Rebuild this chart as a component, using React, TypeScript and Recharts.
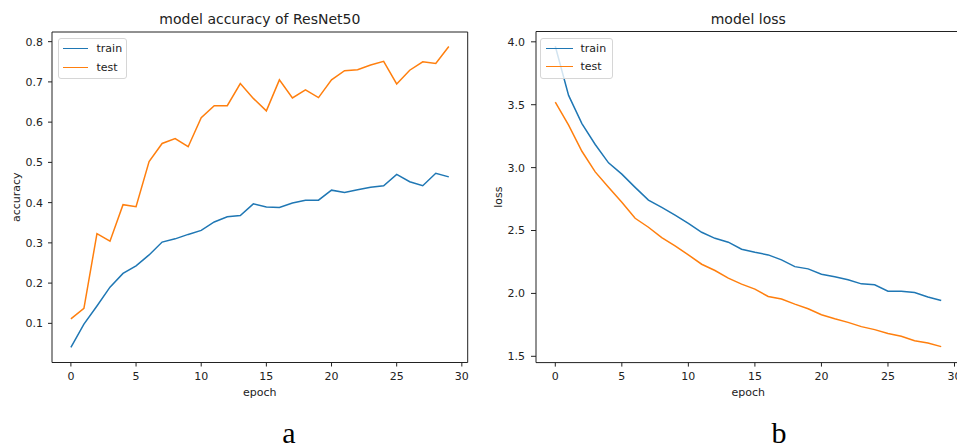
import React from 'react';
import { LineChart, Line, XAxis, YAxis, Legend, ReferenceLine } from 'recharts';

const epochs = [0, 1, 2, 3, 4, 5, 6, 7, 8, 9, 10, 11, 12, 13, 14, 15, 16, 17, 18, 19, 20, 21, 22, 23, 24, 25, 26, 27, 28, 29];

const accTrain = [0.040, 0.098, 0.143, 0.190, 0.224, 0.243, 0.270, 0.302, 0.310, 0.321, 0.331, 0.352, 0.365, 0.368, 0.397, 0.389, 0.388, 0.399, 0.406, 0.406, 0.431, 0.425, 0.432, 0.438, 0.442, 0.470, 0.452, 0.442, 0.473, 0.464];
const accTest = [0.111, 0.137, 0.323, 0.304, 0.395, 0.390, 0.502, 0.547, 0.559, 0.539, 0.611, 0.641, 0.641, 0.696, 0.659, 0.628, 0.705, 0.660, 0.680, 0.661, 0.705, 0.728, 0.730, 0.742, 0.751, 0.695, 0.729, 0.750, 0.746, 0.788];

const lossTrain = [3.965, 3.574, 3.350, 3.184, 3.038, 2.948, 2.843, 2.742, 2.684, 2.623, 2.557, 2.486, 2.438, 2.407, 2.351, 2.327, 2.306, 2.267, 2.213, 2.195, 2.153, 2.132, 2.108, 2.076, 2.068, 2.018, 2.018, 2.007, 1.971, 1.944];
const lossTest = [3.521, 3.337, 3.130, 2.966, 2.843, 2.725, 2.597, 2.526, 2.443, 2.377, 2.306, 2.232, 2.182, 2.121, 2.074, 2.034, 1.976, 1.955, 1.915, 1.878, 1.831, 1.799, 1.770, 1.736, 1.712, 1.682, 1.659, 1.624, 1.606, 1.577];

const xTicks = [0, 5, 10, 15, 20, 25, 30];
const accTicks = [0.1, 0.2, 0.3, 0.4, 0.5, 0.6, 0.7, 0.8];
const lossTicks = [1.5, 2.0, 2.5, 3.0, 3.5, 4.0];

const seriesNames = ['train', 'test'];
const seriesColors = ['#1f77b4', '#ff7f0e'];
const titles = ['model accuracy of ResNet50', 'model loss'];
const yLabels = ['accuracy', 'loss'];
const xLabel = 'epoch';
const captions = ['a', 'b'];

const accData = epochs.map((e, i) => ({ epoch: e, train: accTrain[i], test: accTest[i] }));
const lossData = epochs.map((e, i) => ({ epoch: e, train: lossTrain[i], test: lossTest[i] }));

const INK = '#222222';
const FONT = "'DejaVu Sans', sans-serif";
const X_DOMAIN: [number, number] = [-1.45, 30.45];
const ACC_DOMAIN: [number, number] = [0.0027, 0.824];
const LOSS_DOMAIN: [number, number] = [1.45, 4.082];

const YLabel = (props: any) => {
  const { viewBox, text, bx } = props;
  if (!viewBox) return null;
  const cx = viewBox.x + bx;
  const cy = viewBox.y + viewBox.height / 2;
  return (
    <text x={cx} y={cy} transform={`rotate(-90, ${cx}, ${cy})`} textAnchor="middle" fontSize={11} fill={INK} fontFamily={FONT}>
      {text}
    </text>
  );
};

const XLabel = (props: any) => {
  const { viewBox, text } = props;
  if (!viewBox) return null;
  return (
    <text x={viewBox.x + viewBox.width / 2} y={viewBox.y + 33.5} textAnchor="middle" fontSize={11} fill={INK} fontFamily={FONT}>
      {text}
    </text>
  );
};

const makeLegend = (w: number, lineStart: number, lineLen: number, textStart: number, row1: number, row2: number) => () => {
  const rows = [row1, row2];
  return (
    <div style={{ position: 'relative', width: w, height: 41, boxSizing: 'border-box', border: '1px solid #d6d6d6', borderRadius: 3, background: 'rgba(255,255,255,0.8)', fontFamily: FONT, fontSize: 11, color: INK }}>
      {seriesNames.map((name, i) => (
        <div key={name}>
          <div style={{ position: 'absolute', left: lineStart, top: rows[i] - 1, width: lineLen, height: 0, borderTop: `1.5px solid ${seriesColors[i]}` }} />
          <div style={{ position: 'absolute', left: textStart, top: rows[i] - 7, lineHeight: '13px', whiteSpace: 'nowrap' }}>{name}</div>
        </div>
      ))}
    </div>
  );
};

const fmt1 = (v: number) => v.toFixed(1);

export default function App() {
  const tickStyle = { fill: INK, fontSize: 11, fontFamily: FONT };
  const lineStyle = { stroke: INK, strokeWidth: 1 };
  const titleLabel = (t: string) => ({ value: t, position: 'top' as const, offset: 8, fontSize: 14, fill: INK, fontFamily: FONT });
  return (
    <div style={{ position: 'absolute', left: 0, top: 0, width: 957, height: 446, overflow: 'hidden', background: '#fff' }}>
      <div style={{ position: 'absolute', left: 0, top: 0 }}>
        <LineChart width={480} height={446} data={accData} margin={{ top: 32, right: 12.3, left: 0, bottom: 49.5 }}>
          <XAxis dataKey="epoch" type="number" domain={X_DOMAIN} ticks={xTicks} allowDataOverflow
            height={34} tick={tickStyle} tickLine={lineStyle} axisLine={lineStyle} tickSize={4} tickMargin={6}
            label={<XLabel text={xLabel} />} />
          <YAxis type="number" domain={ACC_DOMAIN} ticks={accTicks} allowDataOverflow width={52}
            tick={tickStyle} tickLine={lineStyle} axisLine={lineStyle} tickSize={4} tickMargin={5} tickFormatter={fmt1}
            label={<YLabel text={yLabels[0]} bx={20} />} />
          <ReferenceLine y={ACC_DOMAIN[1]} stroke={INK} strokeWidth={1} label={titleLabel(titles[0])} />
          <ReferenceLine x={X_DOMAIN[1]} stroke={INK} strokeWidth={1} />
          <Legend layout="vertical" align="center" verticalAlign="middle"
            wrapperStyle={{ left: 58, top: 38, width: 'auto' }}
            content={makeLegend(69, 4, 24.5, 37.5, 10, 29)} />
          <Line dataKey="train" name={seriesNames[0]} stroke={seriesColors[0]} strokeWidth={1.5} dot={false} isAnimationActive={false} />
          <Line dataKey="test" name={seriesNames[1]} stroke={seriesColors[1]} strokeWidth={1.5} dot={false} isAnimationActive={false} />
        </LineChart>
      </div>
      <div style={{ position: 'absolute', left: 480, top: 0 }}>
        <LineChart width={481} height={446} data={lossData} margin={{ top: 31.5, right: 0.5, left: 0, bottom: 49.4 }}>
          <XAxis dataKey="epoch" type="number" domain={X_DOMAIN} ticks={xTicks} allowDataOverflow
            height={34} tick={tickStyle} tickLine={lineStyle} axisLine={lineStyle} tickSize={4} tickMargin={6}
            label={<XLabel text={xLabel} />} />
          <YAxis type="number" domain={LOSS_DOMAIN} ticks={lossTicks} allowDataOverflow width={56}
            tick={tickStyle} tickLine={lineStyle} axisLine={lineStyle} tickSize={5} tickMargin={6} tickFormatter={fmt1}
            label={<YLabel text={yLabels[1]} bx={21.7} />} />
          <ReferenceLine y={LOSS_DOMAIN[1]} stroke={INK} strokeWidth={1} label={titleLabel(titles[1])} />
          <Legend layout="vertical" align="center" verticalAlign="middle"
            wrapperStyle={{ left: 60, top: 37.5, width: 'auto' }}
            content={makeLegend(73, 5, 26.5, 39.5, 10, 28.5)} />
          <Line dataKey="train" name={seriesNames[0]} stroke={seriesColors[0]} strokeWidth={1.5} dot={false} isAnimationActive={false} />
          <Line dataKey="test" name={seriesNames[1]} stroke={seriesColors[1]} strokeWidth={1.5} dot={false} isAnimationActive={false} />
        </LineChart>
      </div>
      <svg width={957} height={446} style={{ position: 'absolute', left: 0, top: 0, pointerEvents: 'none' }}>
        <text x={289} y={443} textAnchor="middle" fontSize={30} fontFamily="'Liberation Serif', serif" fill="#000">{captions[0]}</text>
        <text x={779} y={443} textAnchor="middle" fontSize={30} fontFamily="'Liberation Serif', serif" fill="#000">{captions[1]}</text>
      </svg>
    </div>
  );
}
